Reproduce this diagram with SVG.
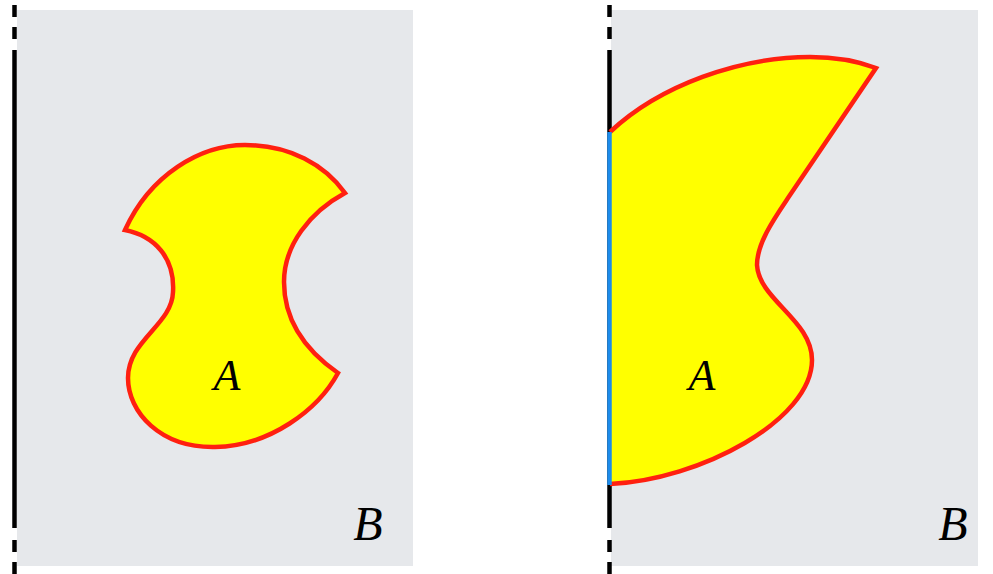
<svg xmlns="http://www.w3.org/2000/svg" xmlns:xlink="http://www.w3.org/1999/xlink" width="993" height="574" viewBox="0 0 993 574">
  <style>
    .panel { fill: #E6E8EB; }
    .axis { stroke: #000; stroke-width: 4.5; fill: none; }
    .region { fill: #FFFF00; stroke: #FF2010; stroke-width: 4.5; stroke-linejoin: miter; }
    .label { font-family: "Liberation Serif", "DejaVu Serif", serif; font-style: italic; fill: #000; text-anchor: middle; }
  </style>
  <defs>
    <g id="axisline">
      <line class="axis" x1="0" y1="5" x2="0" y2="17"/>
      <line class="axis" x1="0" y1="27" x2="0" y2="39"/>
      <line class="axis" x1="0" y1="50" x2="0" y2="528"/>
      <line class="axis" x1="0" y1="540" x2="0" y2="552"/>
      <line class="axis" x1="0" y1="562" x2="0" y2="574"/>
    </g>
  </defs>

  <g id="left-panel">
    <rect class="panel" x="17" y="10" width="396" height="556"/>
    <use xlink:href="#axisline" href="#axisline" x="14.5" y="0"/>
    <g id="left-A">
      <path class="region" d="M125,230 C150,175 200,145 245,145 C290,145 325,165 345,193 C310,212 284,245 284,282 C284,320 305,350 338,373 C318,410 270,446 215,447 C160,448 128,412 128,378 C128,340 172,325 173,292 C175,258 155,236 125,230 Z"/>
      <text class="label" x="227" y="390" font-size="44">A</text>
    </g>
    <text id="left-B" class="label" x="368" y="540" font-size="48">B</text>
  </g>

  <g id="right-panel">
    <rect class="panel" x="611" y="10" width="367" height="556"/>
    <use xlink:href="#axisline" href="#axisline" x="609.5" y="0"/>
    <g id="right-A">
      <path d="M610,132 C660,85 740,57 810,57 C840,57 860,62 876,68 L790,195 C776,216 757,242 757,265 C759,300 812,320 812,360 C812,420 700,480 610,484 Z" fill="#FFFF00" stroke="none"/>
      <path class="region" style="fill:none" d="M610,132 C660,85 740,57 810,57 C840,57 860,62 876,68 L790,195 C776,216 757,242 757,265 C759,300 812,320 812,360 C812,420 700,480 610,484"/>
      <line x1="609.5" y1="132" x2="609.5" y2="485" stroke="#1E8CEB" stroke-width="4.5"/>
      <text class="label" x="702" y="390" font-size="44">A</text>
    </g>
    <text id="right-B" class="label" x="953" y="540" font-size="48">B</text>
  </g>
</svg>
